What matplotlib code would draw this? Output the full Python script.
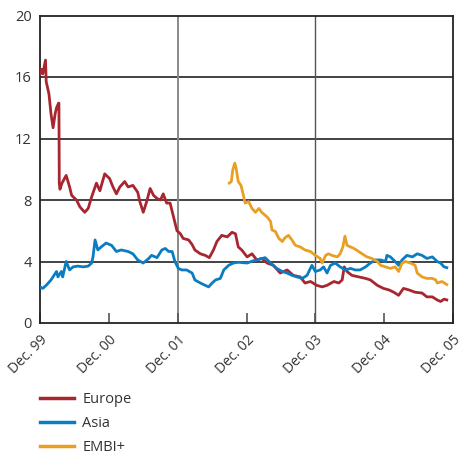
import matplotlib.pyplot as plt
from matplotlib.lines import Line2D

plt.rcParams['font.family'] = ['Open Sans', 'DejaVu Sans']

# years since Dec. 99, spread in percentage points
europe_t = [0.00, 0.02, 0.04, 0.08, 0.09, 0.13, 0.16, 0.19, 0.22, 0.24, 0.27, 0.275,
            0.28, 0.29, 0.32, 0.38, 0.43, 0.46, 0.53, 0.58, 0.65, 0.70, 0.75, 0.82,
            0.87, 0.94, 1.01, 1.06, 1.11, 1.16, 1.23, 1.28, 1.35, 1.42, 1.45, 1.50,
            1.55, 1.60, 1.65, 1.70, 1.75, 1.79, 1.84, 1.89, 1.94, 1.99, 2.04, 2.08,
            2.16, 2.21, 2.25, 2.33, 2.40, 2.46, 2.52, 2.57, 2.64, 2.72, 2.79, 2.84,
            2.88, 2.93, 3.01, 3.08, 3.15, 3.22, 3.30, 3.39, 3.49, 3.59, 3.68, 3.78,
            3.85, 3.93, 4.02, 4.10, 4.17, 4.27, 4.34, 4.39, 4.42, 4.46, 4.53, 4.63,
            4.73, 4.80, 4.90, 4.99, 5.07, 5.14, 5.21, 5.28, 5.36, 5.45, 5.55, 5.62,
            5.70, 5.77, 5.82, 5.87, 5.91]
europe = [16.2, 16.5, 16.2, 17.1, 15.7, 14.9, 13.6, 12.7, 13.6, 14.0, 14.3, 14.3,
          9.1, 8.7, 9.1, 9.6, 8.85, 8.3, 8.0, 7.55, 7.2, 7.45, 8.2, 9.1,
          8.6, 9.7, 9.4, 8.85, 8.4, 8.85, 9.2, 8.85, 8.95, 8.5, 7.9, 7.2,
          7.9, 8.75, 8.3, 8.1, 8.0, 8.4, 7.8, 7.8, 6.9, 6.0, 5.8, 5.5,
          5.4, 5.1, 4.75, 4.5, 4.4, 4.25, 4.75, 5.3, 5.7, 5.6, 5.9, 5.8,
          4.95, 4.75, 4.3, 4.5, 4.1, 4.2, 3.9, 3.75, 3.25, 3.45, 3.1, 3.0,
          2.6, 2.7, 2.45, 2.35, 2.45, 2.7, 2.6, 2.8, 3.65, 3.35, 3.1, 3.0,
          2.9, 2.8, 2.45, 2.25, 2.15, 2.0, 1.8, 2.25, 2.15, 2.0, 1.95, 1.7,
          1.7, 1.5, 1.4, 1.55, 1.5]

asia_t = [0.00, 0.04, 0.09, 0.16, 0.24, 0.26, 0.31, 0.33, 0.38, 0.43, 0.48, 0.55,
          0.63, 0.70, 0.75, 0.77, 0.80, 0.84, 0.89, 0.96, 1.04, 1.11, 1.18, 1.28,
          1.35, 1.42, 1.50, 1.58, 1.62, 1.70, 1.77, 1.82, 1.87, 1.92, 1.96, 2.01,
          2.06, 2.13, 2.21, 2.25, 2.33, 2.40, 2.45, 2.50, 2.55, 2.62, 2.67, 2.74,
          2.81, 2.88, 3.01, 3.10, 3.15, 3.27, 3.35, 3.44, 3.52, 3.59, 3.66, 3.73,
          3.81, 3.88, 3.95, 4.00, 4.07, 4.12, 4.17, 4.22, 4.29, 4.36, 4.44, 4.51,
          4.58, 4.65, 4.73, 4.80, 4.87, 4.95, 5.02, 5.04, 5.09, 5.16, 5.21, 5.26,
          5.33, 5.41, 5.48, 5.55, 5.62, 5.70, 5.77, 5.82, 5.87, 5.91]
asia = [2.35, 2.25, 2.45, 2.8, 3.35, 3.0, 3.35, 3.0, 4.0, 3.45, 3.65, 3.7,
        3.65, 3.7, 3.9, 4.3, 5.4, 4.75, 4.95, 5.2, 5.05, 4.65, 4.75, 4.65,
        4.5, 4.1, 3.9, 4.2, 4.4, 4.25, 4.75, 4.85, 4.65, 4.65, 4.0, 3.55,
        3.45, 3.45, 3.25, 2.8, 2.6, 2.45, 2.35, 2.6, 2.8, 2.9, 3.45, 3.75,
        3.9, 3.95, 3.9, 4.05, 4.1, 4.25, 3.9, 3.55, 3.35, 3.25, 3.1, 3.0,
        2.9, 3.1, 3.75, 3.35, 3.45, 3.65, 3.25, 3.75, 3.9, 3.65, 3.45, 3.55,
        3.45, 3.45, 3.65, 3.9, 4.1, 4.1, 4.0, 4.4, 4.3, 4.0, 3.75, 4.1,
        4.4, 4.3, 4.5, 4.4, 4.2, 4.3, 4.0, 3.9, 3.65, 3.6]

embi_t = [2.75, 2.78, 2.80, 2.83, 2.85, 2.88, 2.92, 2.95, 2.98, 3.03, 3.08, 3.13,
          3.18, 3.22, 3.30, 3.35, 3.37, 3.42, 3.47, 3.52, 3.56, 3.61, 3.66, 3.71,
          3.78, 3.85, 3.93, 4.00, 4.07, 4.10, 4.15, 4.19, 4.24, 4.32, 4.36, 4.40,
          4.43, 4.46, 4.51, 4.56, 4.63, 4.68, 4.75, 4.82, 4.90, 4.95, 5.02, 5.09,
          5.16, 5.21, 5.26, 5.31, 5.38, 5.45, 5.48, 5.55, 5.62, 5.70, 5.75, 5.77,
          5.84, 5.91]
embi = [9.1, 9.2, 9.95, 10.4, 10.05, 9.2, 8.95, 8.4, 7.8, 7.9, 7.45, 7.2,
        7.45, 7.2, 6.9, 6.6, 6.05, 5.95, 5.5, 5.3, 5.55, 5.7, 5.4, 5.05,
        4.95, 4.75, 4.65, 4.4, 4.2, 3.9, 4.4, 4.5, 4.4, 4.3, 4.5, 4.95,
        5.65, 5.05, 4.95, 4.85, 4.65, 4.5, 4.3, 4.2, 4.0, 3.75, 3.65, 3.55,
        3.65, 3.35, 3.9, 4.0, 3.9, 3.75, 3.25, 3.0, 2.9, 2.9, 2.8, 2.6,
        2.7, 2.5]

x_labels = ['Dec. 99', 'Dec. 00', 'Dec. 01', 'Dec. 02', 'Dec. 03', 'Dec. 04', 'Dec. 05']
y_ticks = [0, 4, 8, 12, 16, 20]

c_europe = '#a8262f'
c_asia = '#0a7dc2'
c_embi = '#e9a022'
txt = '#333333'

fig = plt.figure(figsize=(4.63, 4.59), dpi=100)
ax = fig.add_axes([40 / 463, 1 - 323 / 459, 413 / 463, 307.5 / 459])

for y in [4, 8, 12, 16]:
    ax.axhline(y, color='#222222', lw=1.2, zorder=1)
ax.axvline(2, color='#8a8a8a', lw=1.4, zorder=1)
ax.axvline(4, color='#555555', lw=1.0, zorder=1)

for t, v, c in [(europe_t, europe, c_europe), (asia_t, asia, c_asia), (embi_t, embi, c_embi)]:
    ax.plot(t, v, color=c, lw=2.0, zorder=3)

ax.set_xlim(0, 6)
ax.set_ylim(0, 20)
ax.set_yticks(y_ticks)
ax.set_yticklabels([str(v) for v in y_ticks])
ax.set_xticks(range(7))
ax.set_xticklabels(x_labels, rotation=45, ha='right', va='top', rotation_mode='anchor')
ax.tick_params(axis='y', length=0, pad=6, labelsize=10.5, labelcolor=txt)
ax.tick_params(axis='x', direction='in', length=7, width=1.2, color='#555555',
               pad=7, labelsize=10, labelcolor=txt)
for side in ax.spines.values():
    side.set_color('#222222')
    side.set_linewidth(1.3)

handles = [Line2D([], [], color=c, lw=2.5) for c in (c_europe, c_asia, c_embi)]
fig.legend(handles, ['Europe', 'Asia', 'EMBI+'], loc='upper left',
           bbox_to_anchor=(40 / 463, 1 - 392 / 459), frameon=False,
           borderpad=0, borderaxespad=0, handlelength=2.3, handletextpad=0.6,
           labelspacing=0.62, fontsize=10.5, labelcolor=txt)

fig.savefig('out.png', dpi=100)
